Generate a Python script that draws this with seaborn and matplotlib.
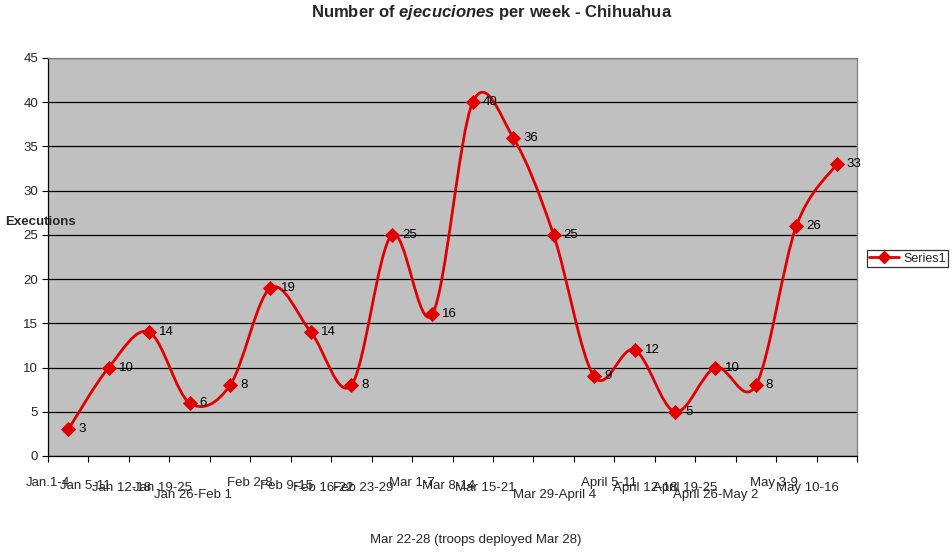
import numpy as np
import pandas as pd
import matplotlib
matplotlib.use("Agg")
import matplotlib.pyplot as plt
import matplotlib.transforms as mtransforms
from matplotlib.path import Path
from matplotlib.patches import PathPatch
from matplotlib.lines import Line2D
import seaborn as sns

# ---------------- data ----------------
weeks = ["Jan.1-4", "Jan 5-11", "Jan 12-18", "Jan 19-25", "Jan 26-Feb 1",
         "Feb 2-8", "Feb 9-15", "Feb 16-22", "Feb 23-29", "Mar 1-7",
         "Mar 8-14", "Mar 15-21", "Mar 22-28 (troops deployed Mar 28)",
         "Mar 29-April 4", "April 5-11", "April 12-18", "April 19-25",
         "April 26-May 2", "May 3-9", "May 10-16"]
executions = [3, 10, 14, 6, 8, 19, 14, 8, 25, 16, 40, 36, 25, 9, 12, 5, 10, 8, 26, 33]
series_name = "Series1"
y_ticks = [0, 5, 10, 15, 20, 25, 30, 35, 40, 45]

# label stagger levels (layout, px below axis)
label_drop = [27, 30, 32, 32, 39, 27, 30, 32, 32, 27, 30, 32, 84, 39, 27, 32, 32, 39, 27, 32]

RED = "#E00000"
sns.set_theme(style="white")
plt.rcParams["font.family"] = ["Liberation Sans", "DejaVu Sans"]
plt.rcParams["mathtext.fontset"] = "custom"
plt.rcParams["mathtext.it"] = "Liberation Sans:italic:bold"
plt.rcParams["mathtext.rm"] = "Liberation Sans:bold"

W, H = 953, 552
fig = plt.figure(figsize=(W / 100, H / 100), dpi=100)
L, R, T, B = 48, 857, 58, 456
ax = fig.add_axes([L / W, (H - B) / H, (R - L) / W, (B - T) / H])
ax.set_facecolor("#C0C0C0")

df = pd.DataFrame({"x": np.arange(len(weeks)), "y": executions})

# smooth line (Excel-style Catmull-Rom Bezier through data points)
xs = df["x"].to_numpy(float)
ys = df["y"].to_numpy(float)
pts = np.column_stack([xs, ys])
verts = [pts[0]]
codes = [Path.MOVETO]
n = len(pts)
for i in range(n - 1):
    p0 = pts[i - 1] if i > 0 else pts[i]
    p1 = pts[i]
    p2 = pts[i + 1]
    p3 = pts[i + 2] if i + 2 < n else pts[i + 1]
    c1 = p1 + (p2 - p0) / 6.0
    c2 = p2 - (p3 - p1) / 6.0
    verts += [c1, c2, p2]
    codes += [Path.CURVE4] * 3
ax.add_patch(PathPatch(Path(verts, codes), facecolor="none", edgecolor=RED,
                       lw=2.0, zorder=3, capstyle="round", joinstyle="round"))

sns.scatterplot(data=df, x="x", y="y", marker="D", s=60, color=RED,
                edgecolor=RED, linewidth=0, ax=ax, zorder=4, legend=False)

# data labels
for xi, yi in zip(xs, ys):
    ax.annotate(f"{int(yi)}", (xi, yi), xytext=(10, 0), textcoords="offset pixels",
                ha="left", va="center", fontsize=9.5, color="black", zorder=5)

ax.set_xlim(-0.5, len(weeks) - 0.5)
ax.set_ylim(0, 45)
ax.set_yticks(y_ticks)
ax.set_yticklabels([str(v) for v in y_ticks], fontsize=9.5)
ax.yaxis.grid(True, color="black", lw=0.9)
ax.set_axisbelow(True)
ax.set_xticks(np.arange(len(weeks) + 1) - 0.5)
ax.set_xticklabels([])
ax.tick_params(axis="both", direction="out", length=4, width=0.8, color="black",
               left=True, bottom=True, pad=3)
ax.set_xlabel("")
ax.set_ylabel("")
for s in ["left", "bottom"]:
    ax.spines[s].set_color("black")
    ax.spines[s].set_linewidth(0.9)
for s in ["top", "right"]:
    ax.spines[s].set_color("#808080")
    ax.spines[s].set_linewidth(0.9)

# category labels (Excel-style staggered)
for i, (lab, drop) in enumerate(zip(weeks, label_drop)):
    trans = mtransforms.blended_transform_factory(ax.transData, ax.transAxes) + \
        mtransforms.ScaledTranslation(0, -drop / 100, fig.dpi_scale_trans)
    if drop > 60:
        ax.text(i - 1.93, 0, lab, transform=trans, ha="center", va="center", fontsize=9.5)
    else:
        ax.text(i + 0.05, 0, lab, transform=trans, ha="right", va="center", fontsize=9.5)

fig.text(5 / W, 1 - 222 / H, "Executions", ha="left", va="center",
         fontsize=9.5, fontweight="bold")
fig.text(492 / W, 1 - 12 / H, r"Number of $ejecuciones$ per week - Chihuahua",
         ha="center", va="center", fontsize=12, fontweight="bold")

handle = Line2D([], [], color=RED, lw=2.0, marker="D", markersize=6)
leg = fig.legend([handle], [series_name], loc="center left",
                 bbox_to_anchor=(867 / W, 1 - 258.5 / H), frameon=True,
                 fontsize=9, handlelength=2.4, borderpad=0.2, fancybox=False,
                 handletextpad=0.3, borderaxespad=0)
leg.get_frame().set_edgecolor("black")
leg.get_frame().set_linewidth(0.9)

fig.savefig("out.png", dpi=100)
